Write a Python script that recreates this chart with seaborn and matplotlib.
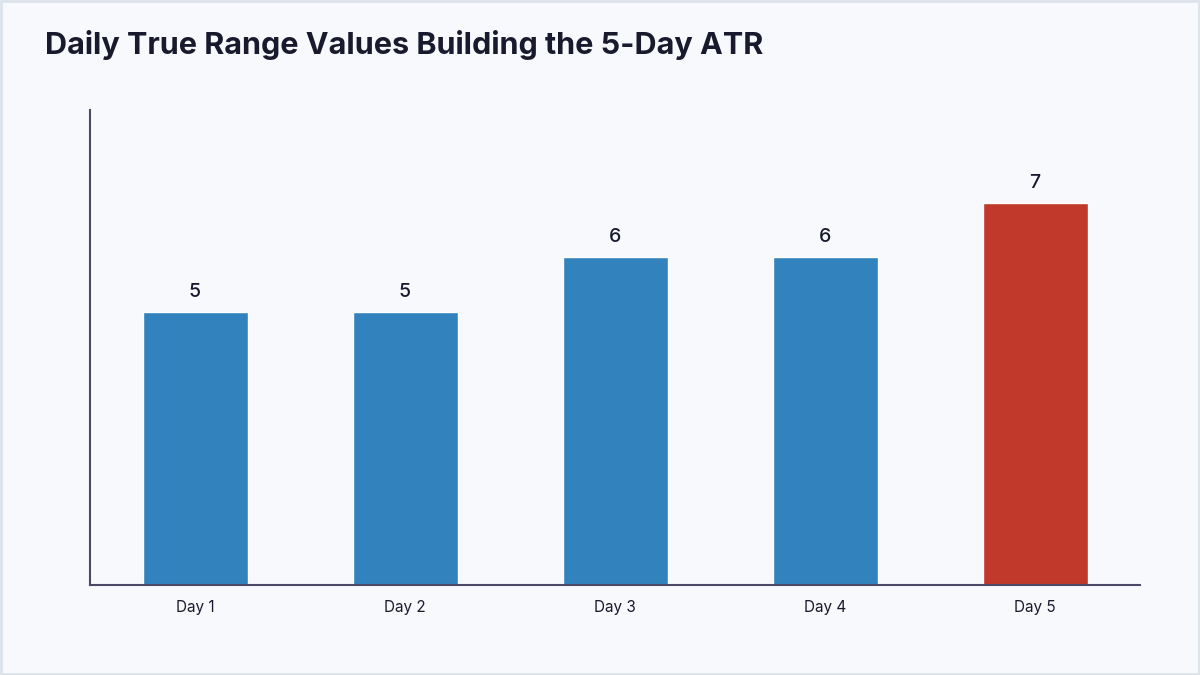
import matplotlib
matplotlib.use("Agg")
import matplotlib.pyplot as plt
import seaborn as sns
import pandas as pd
from matplotlib.patches import Rectangle

# data
days = ["Day 1", "Day 2", "Day 3", "Day 4", "Day 5"]
true_range = [5, 5, 6, 6, 7]
bar_colors = ["#3182bd", "#3182bd", "#3182bd", "#3182bd", "#c0392b"]

df = pd.DataFrame({"day": days, "tr": true_range})

sns.set_style("white")
plt.rcParams["font.family"] = ["Inter", "Noto Sans CJK KR", "DejaVu Sans"]

bg = "#f7f9fc"
fig = plt.figure(figsize=(12, 6.75), dpi=100, facecolor=bg)
ax = fig.add_axes([0.075, 0.1333, 0.875, 0.7037])
ax.set_facecolor(bg)

sns.barplot(data=df, x="day", y="tr", hue="day", palette=bar_colors,
            legend=False, width=0.5, saturation=1, ax=ax)

for i, v in enumerate(true_range):
    ax.annotate(str(v), (i, v), xytext=(0, 8), textcoords="offset points",
                ha="center", va="bottom", fontsize=14, fontweight="medium",
                color="#1a1a2e")

ax.set_xlim(-0.5, 4.5)
ax.set_ylim(0, 8.7)
ax.set_yticks([])
ax.set_xlabel("")
ax.set_ylabel("")
ax.tick_params(axis="x", length=0, pad=11, labelsize=11, labelcolor="#1a1a2e")
for side in ["top", "right"]:
    ax.spines[side].set_visible(False)
for side in ["left", "bottom"]:
    ax.spines[side].set_color("#4a4a68")
    ax.spines[side].set_linewidth(1.5)

fig.text(0.0375, 0.933, "Daily True Range Values Building the 5-Day ATR",
         fontsize=22, fontweight="bold", color="#1a1a2e", va="center")

# light frame round the picture
fig.patches.append(Rectangle((0.001, 0.0015), 0.998, 0.997, transform=fig.transFigure,
                             fill=False, edgecolor="#dde3ec", linewidth=2))

fig.savefig("out.png", dpi=100, facecolor=bg)
